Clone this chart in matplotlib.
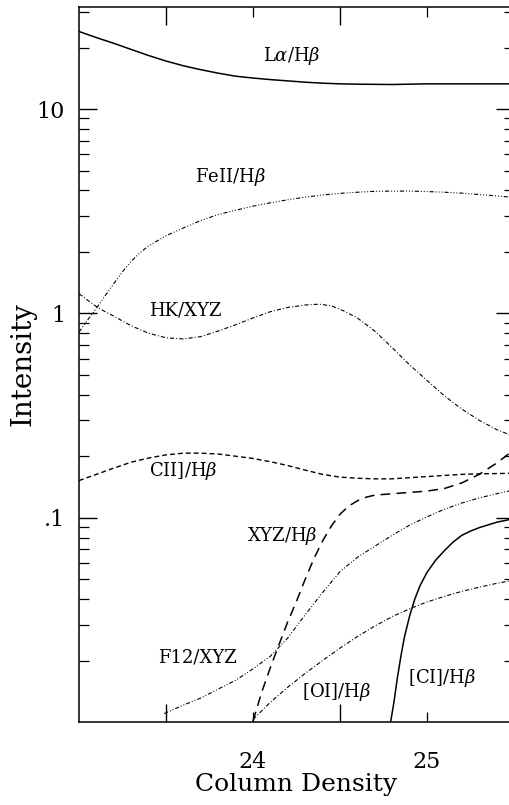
import matplotlib
matplotlib.use("Agg")
import matplotlib.pyplot as plt
from matplotlib.ticker import FixedLocator, NullFormatter

plt.rcParams['font.family'] = ['DejaVu Serif']
plt.rcParams['mathtext.fontset'] = 'dejavuserif'
plt.rcParams['lines.scale_dashes'] = False

# ---- data ----
la_x = [23.0, 23.1, 23.2, 23.3, 23.4, 23.5, 23.6, 23.7, 23.8, 23.9, 24.0, 24.1, 24.2,
        24.3, 24.4, 24.5, 24.6, 24.8, 25.0, 25.2, 25.5]
la_y = [24.0, 22.4, 21.0, 19.6, 18.3, 17.2, 16.3, 15.6, 15.0, 14.5, 14.2, 13.95, 13.75,
        13.55, 13.4, 13.3, 13.25, 13.2, 13.3, 13.3, 13.3]

fe_x = [23.0, 23.05, 23.1, 23.15, 23.2, 23.25, 23.3, 23.35, 23.4, 23.5, 23.6, 23.7, 23.8,
        23.9, 24.0, 24.1, 24.2, 24.3, 24.4, 24.5, 24.6, 24.7, 24.8, 24.9, 25.0, 25.1,
        25.2, 25.3, 25.4, 25.5]
fe_y = [0.81, 0.93, 1.06, 1.22, 1.40, 1.60, 1.80, 1.98, 2.14, 2.40, 2.62, 2.85, 3.05,
        3.20, 3.35, 3.48, 3.60, 3.71, 3.80, 3.87, 3.92, 3.96, 3.97, 3.97, 3.95, 3.92,
        3.88, 3.82, 3.76, 3.70]

hk_x = [23.0, 23.05, 23.1, 23.15, 23.2, 23.3, 23.4, 23.5, 23.6, 23.7, 23.8, 23.9, 24.0,
        24.1, 24.2, 24.3, 24.38, 24.45, 24.52, 24.6, 24.7, 24.8, 24.9, 25.0, 25.1, 25.2,
        25.3, 25.4, 25.5]
hk_y = [1.25, 1.16, 1.08, 1.02, 0.97, 0.87, 0.80, 0.76, 0.75, 0.77, 0.82, 0.88, 0.95,
        1.02, 1.07, 1.10, 1.11, 1.09, 1.03, 0.95, 0.82, 0.68, 0.56, 0.47, 0.395, 0.34,
        0.30, 0.27, 0.25]

cii_x = [23.0, 23.1, 23.2, 23.3, 23.4, 23.5, 23.6, 23.7, 23.8, 23.9, 24.0, 24.1, 24.2,
         24.3, 24.4, 24.5, 24.6, 24.7, 24.8, 24.9, 25.0, 25.1, 25.2, 25.3, 25.5]
cii_y = [0.152, 0.163, 0.175, 0.187, 0.196, 0.203, 0.207, 0.207, 0.205, 0.200, 0.195,
         0.188, 0.180, 0.171, 0.163, 0.158, 0.156, 0.155, 0.155, 0.157, 0.159, 0.161,
         0.163, 0.164, 0.165]

xyz_x = [24.0, 24.05, 24.1, 24.15, 24.2, 24.25, 24.3, 24.35, 24.4, 24.45, 24.5, 24.55,
         24.6, 24.65, 24.7, 24.8, 24.9, 25.0, 25.1, 25.2, 25.3, 25.4, 25.5]
xyz_y = [0.0101, 0.0140, 0.0185, 0.024, 0.031, 0.039, 0.050, 0.063, 0.077, 0.091, 0.104,
         0.114, 0.121, 0.126, 0.129, 0.131, 0.133, 0.135, 0.139, 0.148, 0.163, 0.185, 0.215]

f12_x = [23.49, 23.6, 23.7, 23.8, 23.9, 24.0, 24.1, 24.2, 24.3, 24.4, 24.5, 24.6, 24.7,
         24.8, 24.9, 25.0, 25.1, 25.2, 25.3, 25.4, 25.5]
f12_y = [0.011, 0.0121, 0.0131, 0.0145, 0.016, 0.0182, 0.021, 0.0258, 0.0335, 0.043,
         0.0545, 0.064, 0.0725, 0.082, 0.092, 0.101, 0.110, 0.118, 0.125, 0.131, 0.137]

oi_x = [24.0, 24.1, 24.2, 24.3, 24.4, 24.5, 24.6, 24.7, 24.8, 24.9, 25.0, 25.1, 25.2,
        25.3, 25.4, 25.5]
oi_y = [0.0103, 0.0125, 0.0148, 0.0173, 0.0200, 0.0230, 0.0262, 0.0295, 0.0328, 0.0358,
        0.0387, 0.0412, 0.0436, 0.0457, 0.0477, 0.0495]

ci_x = [24.79, 24.81, 24.83, 24.85, 24.87, 24.90, 24.93, 24.96, 25.0, 25.05, 25.1,
        25.15, 25.2, 25.25, 25.3, 25.4, 25.5]
ci_y = [0.0099, 0.0125, 0.0165, 0.021, 0.026, 0.033, 0.040, 0.0465, 0.054, 0.062,
        0.069, 0.076, 0.082, 0.086, 0.0894, 0.095, 0.099]

labels = ["L$\\alpha$/H$\\beta$", "FeII/H$\\beta$", "HK/XYZ", "CII]/H$\\beta$",
          "XYZ/H$\\beta$", "F12/XYZ", "[OI]/H$\\beta$", "[CI]/H$\\beta$"]
label_x = [24.22, 23.87, 23.61, 23.60, 24.17, 23.68, 24.48, 25.09]
label_y = [18.2, 4.64, 1.03, 0.17, 0.0816, 0.0206, 0.0140, 0.0164]

ytick_vals = [0.1, 1, 10]
ytick_text = [".1", "1", "10"]
xtick_vals = [24, 25]
xtick_text = ["24", "25"]

# ---- figure ----
fig = plt.figure(figsize=(5.1, 8.05), dpi=100)
ax = fig.add_axes([79/510, 83/805, 435/510, 715/805])

k = 'black'
ax.plot(la_x, la_y, color=k, lw=1.1)
ax.plot(fe_x, fe_y, color=k, lw=0.8, dashes=(3, 1.4, 0.7, 1.4, 0.7, 1.4, 0.7, 1.4))
ax.plot(hk_x, hk_y, color=k, lw=0.8, dashes=(3, 1.5, 0.7, 1.5))
ax.plot(cii_x, cii_y, color=k, lw=1.0, dashes=(3.5, 2.2))
ax.plot(xyz_x, xyz_y, color=k, lw=1.1, dashes=(7, 4.5))
ax.plot(f12_x, f12_y, color=k, lw=0.8, dashes=(3, 1.4, 0.7, 1.4, 0.7, 1.4))
ax.plot(oi_x, oi_y, color=k, lw=0.8, dashes=(3, 1.5, 0.7, 1.5))
ax.plot(ci_x, ci_y, color=k, lw=1.1)

for t, x, y in zip(labels, label_x, label_y):
    ax.text(x, y, t, ha='center', va='center', fontsize=13)

ax.set_yscale('log')
ax.set_xlim(23.0, 25.5)
ax.set_ylim(0.01, 10**1.5)

ax.set_yticks(ytick_vals)
ax.set_yticklabels(ytick_text, fontsize=16)
ax.yaxis.set_minor_locator(FixedLocator(
    [m * d for d in (0.01, 0.1, 1, 10) for m in range(2, 10) if m * d < 10**1.5]))
ax.yaxis.set_minor_formatter(NullFormatter())

ax.set_xticks(xtick_vals)
ax.set_xticklabels(xtick_text, fontsize=16)
ax.set_xticks([23.5, 24.5], minor=True)

ax.tick_params(axis='y', which='major', direction='in', length=13, width=1.0,
               left=True, right=True, pad=10)
ax.tick_params(axis='y', which='minor', direction='in', length=7, width=0.9,
               left=True, right=True)
ax.tick_params(axis='x', which='major', direction='in', length=7, width=0.9,
               top=True, bottom=True, pad=21)
ax.tick_params(axis='x', which='minor', direction='in', length=13, width=1.0,
               top=True, bottom=True)

for s in ax.spines.values():
    s.set_linewidth(1.1)

ax.set_xlabel("Column Density", fontsize=18, labelpad=0)
ax.set_ylabel("Intensity", fontsize=20, labelpad=0)

fig.savefig("out.png", dpi=100)
